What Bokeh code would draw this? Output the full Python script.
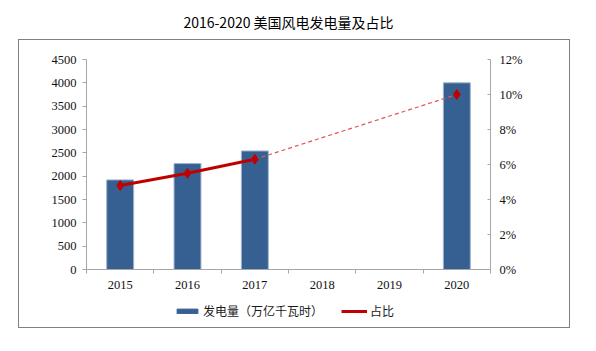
from bokeh.plotting import figure
from bokeh.layouts import column
from bokeh.models import (Range1d, LinearAxis, FixedTicker, NumeralTickFormatter,
                          Legend, LegendItem, Label, InlineStyleSheet)
from bokeh.embed import file_html
from bokeh.resources import INLINE

# ---- data ----
years = ["2015", "2016", "2017", "2018", "2019", "2020"]
generation = [1920, 2270, 2540, None, None, 4000]      # 发电量（万亿千瓦时）
share = [0.048, 0.055, 0.063, None, None, 0.100]        # 占比
left_ticks = [0, 500, 1000, 1500, 2000, 2500, 3000, 3500, 4000, 4500]
right_ticks = [0, 0.02, 0.04, 0.06, 0.08, 0.10, 0.12]

title_text = "2016-2020 美国风电发电量及占比"
bar_label = "发电量（万亿千瓦时）"
line_label = "占比"

centers = [i + 0.5 for i in range(len(years))]
bounds = [float(i) for i in range(len(years) + 1)]

bar_x = [c for c, g in zip(centers, generation) if g is not None]
bar_top = [g for g in generation if g is not None]
pts = [(c, s) for c, s in zip(centers, share) if s is not None]
solid_x = [c for c, s in pts[:3]]
solid_y = [s for c, s in pts[:3]]
dash_x = [pts[2][0], pts[3][0]]
dash_y = [pts[2][1], pts[3][1]]

BAR = "#376092"
BAR_EDGE = "#9DB3CF"
RED = "#C00000"
AXIS = "#A6A6A6"
TICKFONT = "Liberation Serif"
TICKSIZE = "12.5px"
CJK = "Noto Sans CJK SC"

frame_css = InlineStyleSheet(css="""
:host { position: relative; }
:host::after {
  content: ""; position: absolute; left: 18px; top: 39px; width: 552px; height: 289px;
  border: 1.5px solid #808080; pointer-events: none; box-sizing: border-box;
}
""")


def bare(height):
    f = figure(width=596, height=height, x_range=Range1d(0, 1), y_range=Range1d(0, 1),
               output_backend="svg", toolbar_location=None,
               x_axis_location=None, y_axis_location=None,
               min_border_left=86, min_border_right=106, min_border_top=0, min_border_bottom=0)
    f.outline_line_color = None
    f.xgrid.visible = False
    f.ygrid.visible = False
    f.background_fill_color = "white"
    f.border_fill_color = "white"
    return f


# ---- header with the title ----
h = bare(39)
h.add_layout(Label(x=0.5, y=0.46, text=title_text, text_align="center", text_baseline="middle",
                   text_font=CJK, text_font_size="14px", text_color="#000000"))

# ---- main chart ----
p = figure(width=596, height=261, x_range=Range1d(0, 6), y_range=Range1d(0, 4500),
           output_backend="svg", toolbar_location=None,
           min_border_left=86, min_border_right=106, min_border_top=20, min_border_bottom=31)
p.outline_line_color = None
p.xgrid.visible = False
p.ygrid.visible = False
p.background_fill_color = "white"
p.border_fill_color = "white"

ya = p.yaxis[0]
ya.ticker = FixedTicker(ticks=left_ticks)
ya.axis_line_color = AXIS
ya.major_tick_line_color = AXIS
ya.major_tick_out = 4
ya.major_tick_in = 0
ya.minor_tick_line_color = None
ya.major_label_text_font = TICKFONT
ya.major_label_text_font_size = TICKSIZE
ya.major_label_text_color = "#111111"
ya.major_label_standoff = 6

xa = p.xaxis[0]
xa.ticker = FixedTicker(ticks=centers, minor_ticks=bounds)
xa.major_label_overrides = {c: y for c, y in zip(centers, years)}
xa.axis_line_color = AXIS
xa.major_tick_line_color = None
xa.major_tick_out = 0
xa.major_tick_in = 0
xa.minor_tick_line_color = AXIS
xa.minor_tick_out = 4
xa.minor_tick_in = 0
xa.major_label_text_font = TICKFONT
xa.major_label_text_font_size = TICKSIZE
xa.major_label_text_color = "#111111"
xa.major_label_standoff = 7

p.extra_y_ranges = {"pct": Range1d(0, 0.12)}
ra = LinearAxis(y_range_name="pct", ticker=FixedTicker(ticks=right_ticks),
                formatter=NumeralTickFormatter(format="0%"))
ra.axis_line_color = AXIS
ra.major_tick_line_color = AXIS
ra.major_tick_in = 3
ra.major_tick_out = 0
ra.minor_tick_line_color = None
ra.major_label_text_font = TICKFONT
ra.major_label_text_font_size = TICKSIZE
ra.major_label_text_color = "#111111"
ra.major_label_standoff = 9
p.add_layout(ra, "right")

p.vbar(x=bar_x, top=bar_top, width=0.4, fill_color=BAR, line_color=BAR_EDGE, line_width=1)
p.line(dash_x, dash_y, y_range_name="pct", line_color="#E05555", line_width=1.2, line_dash="4 3")
p.line(solid_x, solid_y, y_range_name="pct", line_color=RED, line_width=3)
p.scatter([c for c, s in pts], [s for c, s in pts], y_range_name="pct", marker="diamond",
          size=10, fill_color=RED, line_color=RED)

# ---- legend strip: same series, ranges set so the marks stay far outside the strip ----
q = bare(51)
q.x_range = Range1d(1000, 1001)
q.y_range = Range1d(100000, 100001)
lg_bar = q.vbar(x=bar_x, top=bar_top, width=0.4, fill_color=BAR, line_color=BAR)
lg_line = q.line(solid_x, solid_y, line_color=RED, line_width=3)
lg_mark = q.scatter([c for c, s in pts], [s for c, s in pts], marker="diamond", size=7,
                    fill_color=RED, line_color=RED)

legend = Legend(items=[LegendItem(label=bar_label, renderers=[lg_bar]),
                       LegendItem(label=line_label, renderers=[lg_line, lg_mark])],
                orientation="horizontal", location=(88, 32),
                label_text_font=CJK, label_text_font_size="12px", label_text_color="#1a1a1a",
                glyph_width=26, glyph_height=6, label_standoff=3, spacing=18,
                border_line_color=None, background_fill_alpha=0, padding=2, margin=0)
q.add_layout(legend)

layout = column(h, p, q, spacing=0, stylesheets=[frame_css])

open("out.html", "w").write(file_html(layout, INLINE))
